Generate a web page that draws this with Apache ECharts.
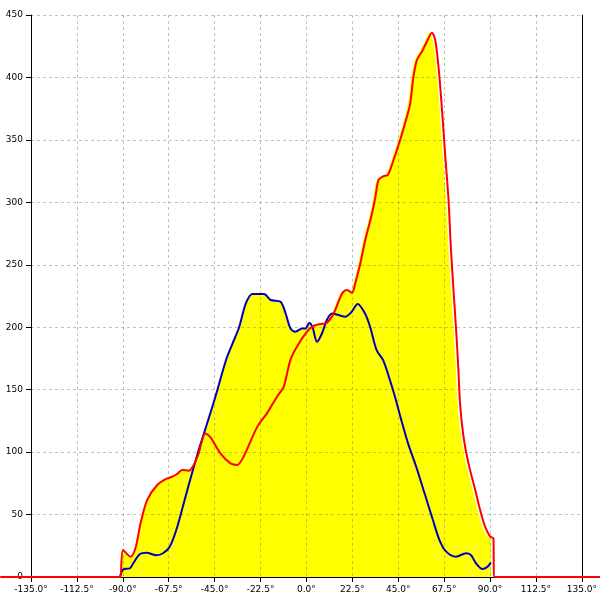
<!DOCTYPE html>
<html>
<head>
<meta charset="utf-8">
<script src="https://cdn.jsdelivr.net/npm/echarts@6/dist/echarts.min.js"></script>
<style>html,body{margin:0;padding:0;background:#fff}#c{width:600px;height:600px}</style>
</head>
<body>
<div id="c"></div>
<script>
// Red series (angle in degrees, value)
var redAngles = [-150, -91.8, -91.4, -90.1, -86.5, -84.1, -81.6, -78.4, -73.5, -68.6, -66.2, -63.8, -61.3, -58.1, -55.7, -53.3, -50.0, -47.6, -42.7, -37.8, -34.6, -31.4, -24.8, -20.0, -15.1, -11.9, -8.6, -5.4, -0.5, 2.7, 6.0, 9.2, 12.5, 16.6, 19.0, 21.4, 23.0, 25.5, 27.9, 31.2, 32.8, 34.4, 36.8, 38.9, 41.7, 44.9, 48.2, 49.8, 51.4, 53.1, 55.5, 57.9, 60.4, 62.0, 63.6, 65.2, 66.8, 68.5, 69.6, 70.9, 72.2, 73.3, 74.1, 75.8, 78.2, 81.5, 83.9, 86.3, 88.8, 90.4, 90.6, 91.0, 150];
var redValues = [0, 0, 0, 21.6, 16.3, 23, 43, 61.6, 73.7, 79, 80.3, 82.5, 85.7, 85.1, 89.7, 99, 115, 112, 99, 91, 89.7, 96.3, 120, 131, 144.4, 152, 173.7, 184.4, 196.4, 201, 202.6, 203.6, 211, 227, 229.8, 227.6, 235, 251, 269.8, 291, 304, 317.9, 321, 321.9, 333.9, 349.9, 368.5, 379, 400.6, 414, 420.6, 428.6, 435.8, 430, 408.6, 376.5, 339.2, 301.8, 264.5, 229.8, 197.8, 165.7, 139, 112.3, 91, 69.7, 53.6, 40.3, 32.3, 31, 0, 0, 0];
// Blue series
var blueAngles = [-91.4, -89.8, -86.5, -84.9, -81.6, -78.4, -73.5, -70.3, -67.0, -63.8, -60.6, -57.3, -53.3, -50.8, -45.1, -39.4, -36.2, -33.0, -29.7, -26.5, -20.8, -17.5, -12.7, -10.2, -7.8, -5.4, -2.1, -0.5, 1.4, 2.9, 5.2, 7.6, 10.0, 12.5, 15.7, 19.0, 22.2, 25.1, 28.7, 31.2, 34.4, 37.6, 40.9, 43.3, 46.5, 49.8, 53.8, 57.9, 62.0, 65.2, 68.5, 73.3, 78.2, 80.6, 83.1, 86.3, 88.8, 90.4];
var blueValues = [0, 6, 7, 11, 18.4, 19.5, 17.4, 19, 24.3, 37.6, 56.3, 76, 99, 112, 141.7, 173.7, 187, 200, 219, 226.6, 226.6, 221.8, 220.4, 211, 199, 196.4, 199, 199, 203.4, 200.4, 188.4, 195, 205.8, 211, 209.8, 208.4, 212.4, 218.6, 211, 200.4, 181.7, 173.7, 157.7, 145, 125.7, 107, 88.3, 67, 45.6, 29.6, 20.3, 16.3, 19, 17.6, 11, 6.4, 8.3, 11.5];
var xMin = -135, xMax = 135, xTickStep = 22.5;
var yMin = 0, yMax = 450, yTickStep = 50;

function pairs(xs, ys) { return xs.map(function (x, i) { return [x, ys[i]]; }); }
var redData = pairs(redAngles, redValues);
var blueData = pairs(blueAngles, blueValues);

var W = 600, gLeft = 31, gRight = 15, gTop = 15, gBottom = 23;
var pxPerUnit = (W - gLeft - gRight) / (xMax - xMin);
var fullMin = xMin - gLeft / pxPerUnit, fullMax = xMax + gRight / pxPerUnit;

var chart = echarts.init(document.getElementById('c'), null, {renderer: 'canvas'});
var labelFont = {fontFamily: 'DejaVu Sans', fontSize: 9, color: '#000'};
var gridLine = {show: true, lineStyle: {color: 'rgba(120,120,120,0.45)', type: [3, 3], width: 1}};
var sm = {showSymbol: false, smooth: 0.3};
chart.setOption({
  animation: false,
  grid: [
    {left: gLeft, right: gRight, top: gTop, bottom: gBottom},
    {left: 0, right: 0, top: gTop, bottom: gBottom}
  ],
  xAxis: [{
    type: 'value', min: xMin, max: xMax, interval: xTickStep, z: 3, gridIndex: 0,
    axisLine: {show: true, onZero: false, lineStyle: {color: '#000', width: 1}},
    axisTick: {show: true, length: 5, lineStyle: {color: '#000'}},
    axisLabel: Object.assign({margin: 8, formatter: function (v) { return v.toFixed(1) + '°'; }}, labelFont),
    splitLine: gridLine
  }, {
    type: 'value', min: fullMin, max: fullMax, gridIndex: 1, show: false
  }],
  yAxis: [{
    type: 'value', min: yMin, max: yMax, interval: yTickStep, z: 3, gridIndex: 0,
    axisLine: {show: true, onZero: false, lineStyle: {color: '#000', width: 1}},
    axisTick: {show: true, length: 5, lineStyle: {color: '#000'}},
    axisLabel: Object.assign({margin: 8}, labelFont),
    splitLine: gridLine
  }, {
    type: 'value', min: yMin, max: yMax, interval: yTickStep, position: 'right', z: 3, gridIndex: 0,
    axisLine: {show: true, onZero: false, lineStyle: {color: '#000', width: 1}},
    axisTick: {show: false}, axisLabel: {show: false}, splitLine: {show: false}
  }, {
    type: 'value', min: yMin, max: yMax, gridIndex: 1, show: false
  }],
  series: [
    Object.assign({type: 'line', data: redData, z: 1, lineStyle: {width: 0}, areaStyle: {color: '#ffff00', opacity: 1}}, sm),
    Object.assign({type: 'line', data: blueData, z: 1, lineStyle: {width: 0}, areaStyle: {color: '#ffff00', opacity: 1}}, sm),
    Object.assign({type: 'line', data: blueData, z: 5, lineStyle: {width: 2, color: '#0000c0'}}, sm),
    Object.assign({type: 'line', data: redData, xAxisIndex: 1, yAxisIndex: 2, z: 6, lineStyle: {width: 2, color: '#ff0000'}}, sm)
  ]
});
</script>
</body>
</html>
